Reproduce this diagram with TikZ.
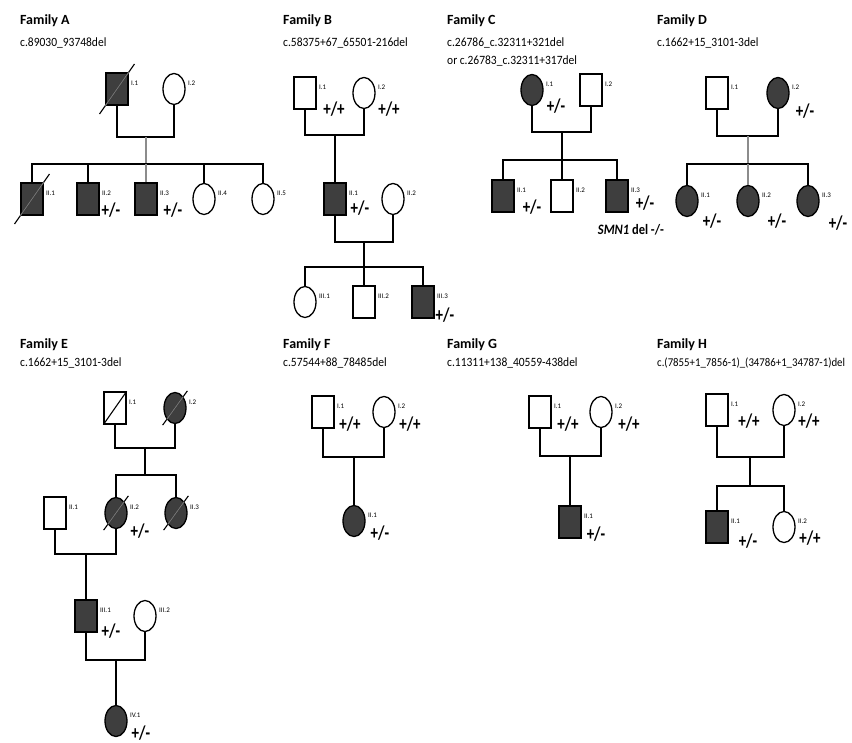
\documentclass[tikz,border=0pt]{standalone}
\usepackage{fontspec}
\setmainfont{Carlito}
\usetikzlibrary{shapes.geometric,calc}
\definecolor{affc}{RGB}{62,62,62}
\newcommand\deadmark[1]{%
  \draw[line width=1.1pt] ($(#1.south west)!-0.25!(#1.north east)$) -- ($(#1.north east)!-0.25!(#1.south west)$);
  \draw[line width=1.1pt,black!55] (#1.south west) -- (#1.north east);}
\newcommand\idlab[2]{\node[idl] at ($(#1.center)+(14,-6)$) {#2};}
\begin{document}
\begin{tikzpicture}[x=1pt,y=-1pt,
 male/.style={draw=black, line width=1.3pt, rectangle, minimum width=22pt, minimum height=32pt, inner sep=0pt},
 female/.style={draw=black, line width=1.3pt, ellipse, minimum width=22pt, minimum height=31pt, inner sep=0pt},
 aff/.style={fill=affc},
 line/.style={line width=1.5pt, black},
 gline/.style={line width=1.5pt, black!45},
 title/.style={font=\fontsize{14}{16}\selectfont\bfseries, anchor=west, inner sep=0pt},
 mut/.style={font=\fontsize{11.5}{13}\selectfont, anchor=west, inner sep=0pt, yscale=1.1},
 gt/.style={font=\fontsize{15}{17}\selectfont\bfseries, inner sep=0pt, yscale=1.3},
 idl/.style={font=\fontsize{7}{8}\selectfont, anchor=west, inner sep=0pt},
]
\useasboundingbox[fill=white] (0,0) rectangle (852,743);

% ---------------- Family A
\node[title] (tA) at (20,21) {Family A};
\node[mut] (mA) at (20,43) {c.89030\_93748del};
\node[male,aff] (A11) at (117,89) {};
\node[female] (A12) at (174,89) {};
\coordinate (Am) at (146,137);
\coordinate (As) at (146,164);
\node[male,aff] (A21) at (32,199) {};
\node[male,aff] (A22) at (88,199) {};
\node[male,aff] (A23) at (146,199) {};
\node[female] (A24) at (204,199) {};
\node[female] (A25) at (263,199) {};
\deadmark{A11}
\deadmark{A21}
\draw[line] (A11.south) |- (Am) -| (A12.south);
\draw[gline] (Am) -- (As);
\draw[line] (A21.north) |- (As) -| (A25.north);
\draw[line] (A22.north) -- (A22.north |- As);
\draw[gline] (A23.north) -- (As);
\draw[line] (A24.north) -- (A24.north |- As);
\idlab{A11}{I.1}\idlab{A12}{I.2}
\idlab{A21}{II.1}\idlab{A22}{II.2}\idlab{A23}{II.3}\idlab{A24}{II.4}\idlab{A25}{II.5}
\node[gt] (gA22) at (111,210) {+/-};
\node[gt] (gA23) at (173,210) {+/-};

% ---------------- Family B
\node[title] (tB) at (283,21) {Family B};
\node[mut] (mB) at (283,43) {c.58375+67\_65501-216del};
\node[male] (B11) at (305,93) {};
\node[female] (B12) at (364,93) {};
\coordinate (Bm) at (335,135);
\node[male,aff] (B21) at (335,199) {};
\node[female] (B22) at (393,199) {};
\coordinate (Bm2) at (364,242);
\coordinate (Bs) at (364,267);
\node[female] (B31) at (305,302) {};
\node[male] (B32) at (364,302) {};
\node[male,aff] (B33) at (423,302) {};
\draw[line] (B11.south) |- (Bm) -| (B12.south);
\draw[line] (Bm) -- (B21.north);
\draw[line] (B21.south) |- (Bm2) -| (B22.south);
\draw[line] (Bm2) -- (Bs);
\draw[line] (B31.north) |- (Bs) -| (B33.north);
\draw[line] (B32.north) -- (Bs);
\idlab{B11}{I.1}\idlab{B12}{I.2}\idlab{B21}{II.1}\idlab{B22}{II.2}
\idlab{B31}{III.1}\idlab{B32}{III.2}\idlab{B33}{III.3}
\node[gt] (gB11) at (334,109) {+/+};
\node[gt] (gB12) at (389,109) {+/+};
\node[gt] (gB21) at (360,208) {+/-};
\node[gt] (gB33) at (445,315) {+/-};

% ---------------- Family C
\node[title] (tC) at (447,21) {Family C};
\node[mut] (mC) at (447,43) {c.26786\_c.32311+321del};
\node[mut] (mC2) at (447,61) {or c.26783\_c.32311+317del};
\node[female,aff] (C11) at (532,90) {};
\node[male] (C12) at (591,90) {};
\coordinate (Cm) at (562,132);
\coordinate (Cs) at (562,160);
\node[male,aff] (C21) at (503,196) {};
\node[male] (C22) at (562,196) {};
\node[male,aff] (C23) at (617,196) {};
\draw[line] (C11.south) |- (Cm) -| (C12.south);
\draw[line] (Cm) -- (Cs);
\draw[line] (C21.north) |- (Cs) -| (C23.north);
\draw[line] (C22.north) -- (Cs);
\idlab{C11}{I.1}\idlab{C12}{I.2}\idlab{C21}{II.1}\idlab{C22}{II.2}\idlab{C23}{II.3}
\node[gt] (gC11) at (556,106) {+/-};
\node[gt] (gC21) at (532,207) {+/-};
\node[gt] (gC23) at (645,203) {+/-};
\node[font=\fontsize{12.5}{14}\selectfont\bfseries, inner sep=0pt, yscale=1.15] (sC) at (631,230) {\textit{SMN1} del -/-};

% ---------------- Family D
\node[title] (tD) at (657,21) {Family D};
\node[mut] (mD) at (657,43) {c.1662+15\_3101-3del};
\node[male] (D11) at (717,93) {};
\node[female,aff] (D12) at (778,93) {};
\coordinate (Dm) at (748,136);
\coordinate (Ds) at (748,164);
\node[female,aff] (D21) at (687,201) {};
\node[female,aff] (D22) at (748,201) {};
\node[female,aff] (D23) at (808,201) {};
\draw[line] (D11.south) |- (Dm) -| (D12.south);
\draw[gline] (Dm) -- (Ds);
\draw[line] (D21.north) |- (Ds) -| (D23.north);
\draw[gline] (D22.north) -- (Ds);
\idlab{D11}{I.1}\idlab{D12}{I.2}\idlab{D21}{II.1}\idlab{D22}{II.2}\idlab{D23}{II.3}
\node[gt] (gD12) at (805,111) {+/-};
\node[gt] (gD21) at (712,221) {+/-};
\node[gt] (gD22) at (777,221) {+/-};
\node[gt] (gD23) at (838,223) {+/-};

% ---------------- Family E
\node[title] (tE) at (20,345) {Family E};
\node[mut] (mE) at (20,363) {c.1662+15\_3101-3del};
\node[male] (E11) at (115,408) {};
\node[female,aff] (E12) at (175,408) {};
\coordinate (Em) at (145,448);
\coordinate (Es) at (145,475);
\node[male] (E21) at (55,513) {};
\node[female,aff] (E22) at (116,513) {};
\node[female,aff] (E23) at (176,513) {};
\coordinate (Em2) at (86,554);
\node[male,aff] (E31) at (86,616) {};
\node[female] (E32) at (145,616) {};
\coordinate (Em3) at (116,660);
\node[female,aff] (E41) at (116,721) {};
\draw[line width=1.1pt] (E11.south west) -- (E11.north east);
\deadmark{E12}
\deadmark{E22}
\deadmark{E23}
\draw[line] (E11.south) |- (Em) -| (E12.south);
\draw[line] (Em) -- (Es);
\draw[line] (E22.north) |- (Es) -| (E23.north);
\draw[line] (E21.south) |- (Em2) -| (E22.south);
\draw[line] (Em2) -- (E31.north);
\draw[line] (E31.south) |- (Em3) -| (E32.south);
\draw[line] (Em3) -- (E41.north);
\idlab{E11}{I.1}\idlab{E12}{I.2}\idlab{E21}{II.1}\idlab{E22}{II.2}\idlab{E23}{II.3}
\idlab{E31}{III.1}\idlab{E32}{III.2}\idlab{E41}{IV.1}
\node[gt] (gE22) at (140,531) {+/-};
\node[gt] (gE31) at (111,631) {+/-};
\node[gt] (gE41) at (141,733) {+/-};

% ---------------- Family F
\node[title] (tF) at (283,345) {Family F};
\node[mut] (mF) at (283,363) {c.57544+88\_78485del};
\node[male] (F11) at (323,412) {};
\node[female] (F12) at (384,412) {};
\coordinate (Fm) at (354,457);
\node[female,aff] (F21) at (354,521) {};
\draw[line] (F11.south) |- (Fm) -| (F12.south);
\draw[line] (Fm) -- (F21.north);
\idlab{F11}{I.1}\idlab{F12}{I.2}\idlab{F21}{II.1}
\node[gt] (gF11) at (350,424) {+/+};
\node[gt] (gF12) at (410,424) {+/+};
\node[gt] (gF21) at (380,533) {+/-};

% ---------------- Family G
\node[title] (tG) at (447,345) {Family G};
\node[mut] (mG) at (447,363) {c.11311+138\_40559-438del};
\node[male] (G11) at (540,412) {};
\node[female] (G12) at (601,412) {};
\coordinate (Gm) at (570,456);
\node[male,aff] (G21) at (570,522) {};
\draw[line] (G11.south) |- (Gm) -| (G12.south);
\draw[line] (Gm) -- (G21.north);
\idlab{G11}{I.1}\idlab{G12}{I.2}\idlab{G21}{II.1}
\node[gt] (gG11) at (568,424) {+/+};
\node[gt] (gG12) at (629,424) {+/+};
\node[gt] (gG21) at (596,534) {+/-};

% ---------------- Family H
\node[title] (tH) at (657,345) {Family H};
\node[mut, font=\fontsize{10.8}{13}\selectfont] (mH) at (657,363) {c.(7855+1\_7856-1)\_(34786+1\_34787-1)del};
\node[male] (H11) at (717,410) {};
\node[female] (H12) at (784,410) {};
\coordinate (Hm) at (750,457);
\coordinate (Hs) at (750,486);
\node[male,aff] (H21) at (717,527) {};
\node[female] (H22) at (784,527) {};
\draw[line] (H11.south) |- (Hm) -| (H12.south);
\draw[line] (Hm) -- (Hs);
\draw[line] (H21.north) |- (Hs) -| (H22.north);
\idlab{H11}{I.1}\idlab{H12}{I.2}\idlab{H21}{II.1}\idlab{H22}{II.2}
\node[gt] (gH11) at (749,421) {+/+};
\node[gt] (gH12) at (809,421) {+/+};
\node[gt] (gH21) at (748,541) {+/-};
\node[gt] (gH22) at (810,538) {+/+};
\end{tikzpicture}
\end{document}
